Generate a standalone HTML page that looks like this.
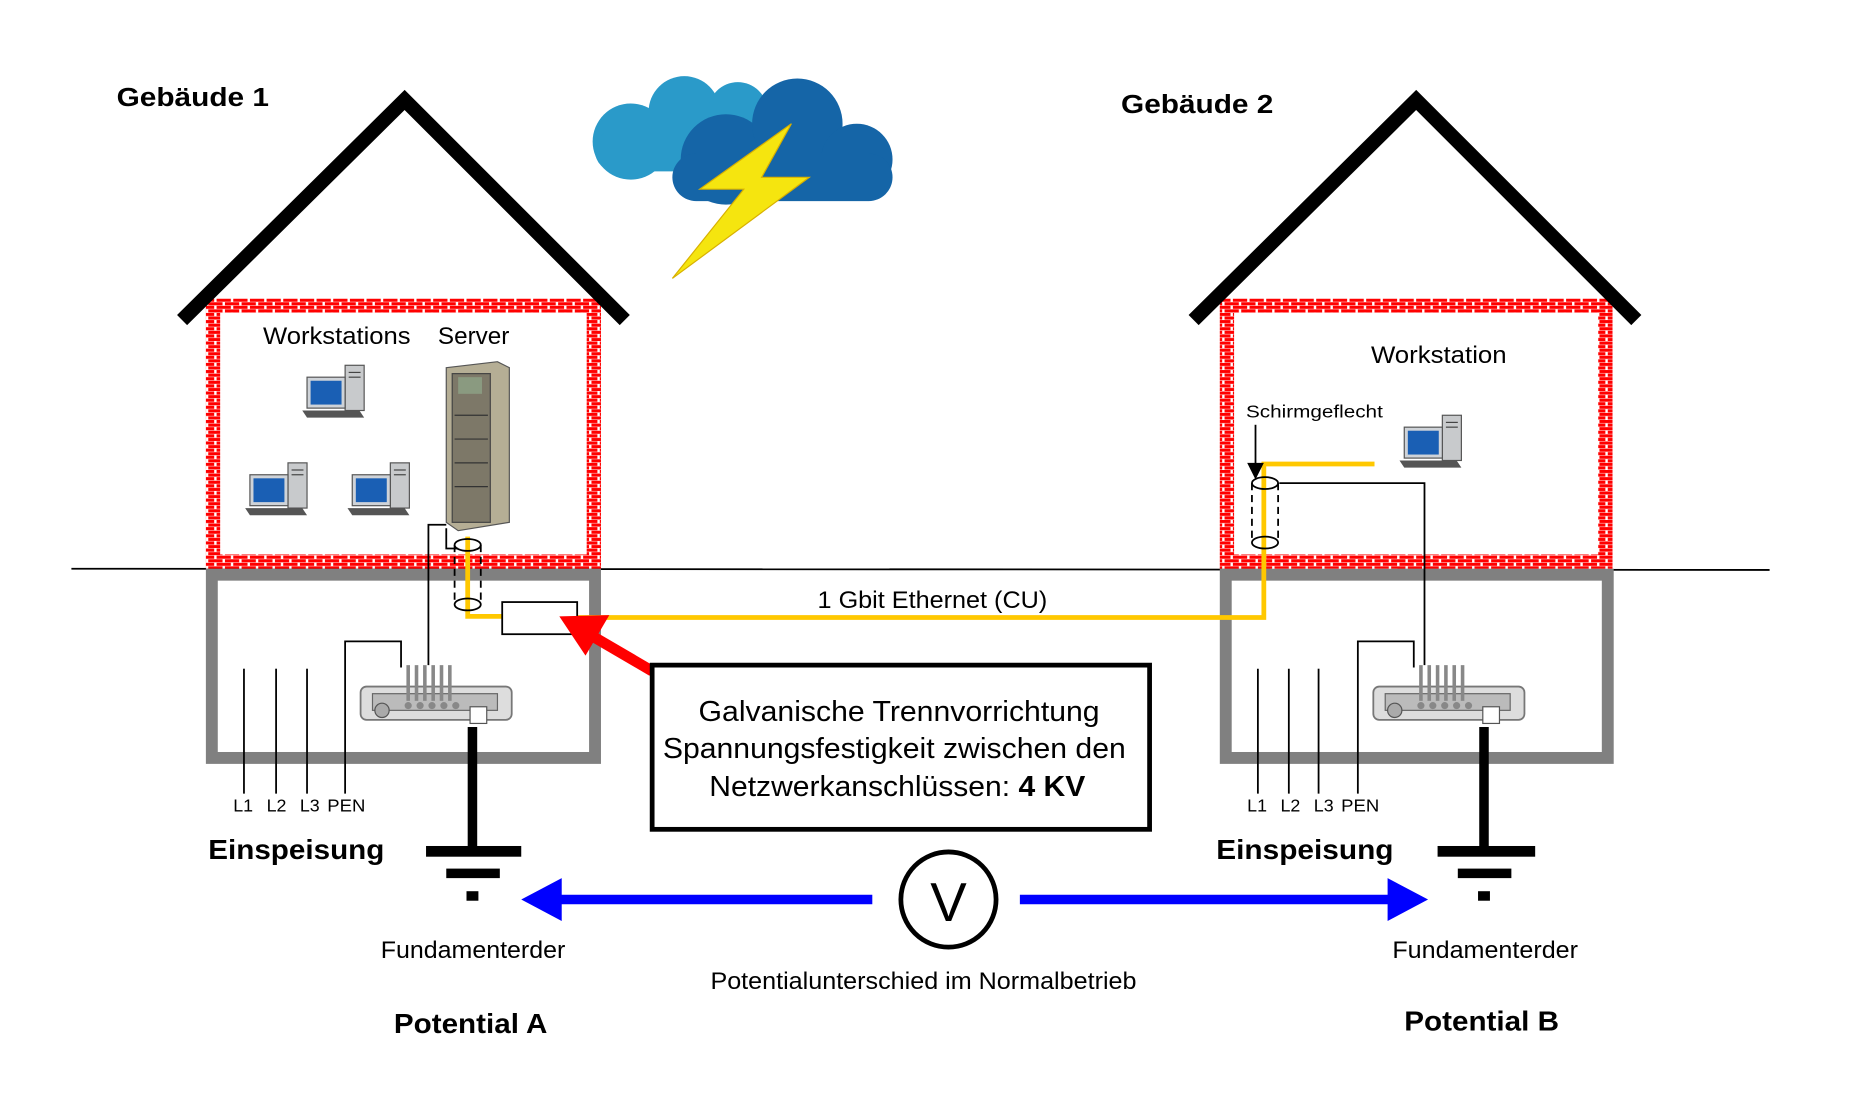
<!DOCTYPE html>
<html><head><meta charset="utf-8"><style>
html,body{margin:0;padding:0;background:#fff;}
svg{display:block;}
text{font-family:"Liberation Sans",sans-serif;}
</style></head><body>
<svg width="1866" height="1103" viewBox="0 1 1568 927" preserveAspectRatio="none" xmlns="http://www.w3.org/2000/svg">
<defs>
<pattern id="brick" x="0" y="252" width="14" height="6" patternUnits="userSpaceOnUse">
<rect width="14" height="6" fill="#fff"/>
<rect x="0" y="0" width="12" height="2.6" fill="#f00"/>
<rect x="-7" y="3" width="12" height="2.6" fill="#f00"/>
<rect x="7" y="3" width="12" height="2.6" fill="#f00"/>
</pattern>
<g id="pc">
<rect x="32" y="0" width="16" height="38" fill="#c8cacc" stroke="#555" stroke-width="1"/>
<line x1="35" y1="6" x2="45" y2="6" stroke="#444"/><line x1="35" y1="10" x2="45" y2="10" stroke="#444"/>
<rect x="0" y="10" width="32" height="26" fill="#cfd3d8" stroke="#555" stroke-width="1"/>
<rect x="3" y="13" width="26" height="20" fill="#1a5fb4"/>
<polygon points="-4,38 44,38 48,44 0,44" fill="#555"/>
</g>
<g id="term">
<rect x="0" y="18" width="127" height="28" rx="5" fill="#ddd" stroke="#777" stroke-width="1.5"/>
<rect x="10" y="24" width="105" height="14" fill="#bbb" stroke="#666"/>
<g stroke="#888" stroke-width="3"><line x1="40" y1="0" x2="40" y2="30"/><line x1="47" y1="0" x2="47" y2="30"/><line x1="54" y1="0" x2="54" y2="30"/><line x1="61" y1="0" x2="61" y2="30"/><line x1="68" y1="0" x2="68" y2="30"/><line x1="75" y1="0" x2="75" y2="30"/></g>
<g fill="#888"><circle cx="40" cy="34" r="3"/><circle cx="50" cy="34" r="3"/><circle cx="60" cy="34" r="3"/><circle cx="70" cy="34" r="3"/><circle cx="80" cy="34" r="3"/></g>
<circle cx="18" cy="38" r="6" fill="#aaa" stroke="#555"/>
<rect x="92" y="35" width="14" height="14" fill="#fff" stroke="#555"/>
</g>
</defs>

<line x1="60" y1="479" x2="1487" y2="480" stroke="#000" stroke-width="1.5"/>

<rect x="179" y="258" width="320" height="215" fill="none" stroke="url(#brick)" stroke-width="12"/>
<rect x="178" y="484" width="322" height="154" fill="none" stroke="#808080" stroke-width="10"/>
<polyline points="153,270 340,85 525,270" fill="none" stroke="#000" stroke-width="12"/>
<rect x="1031" y="258" width="318" height="215" fill="none" stroke="url(#brick)" stroke-width="12"/>
<rect x="1030" y="484" width="321" height="154" fill="none" stroke="#808080" stroke-width="10"/>
<polyline points="1003,270 1190,85 1375,270" fill="none" stroke="#000" stroke-width="12"/>

<text x="98" y="90" font-size="22" font-weight="bold" textLength="128" lengthAdjust="spacingAndGlyphs">Gebäude 1</text>
<text x="942" y="96" font-size="22" font-weight="bold" textLength="128" lengthAdjust="spacingAndGlyphs">Gebäude 2</text>

<g fill="#2a9ac9">
<circle cx="530" cy="120" r="32"/><circle cx="575" cy="95" r="30"/><circle cx="620" cy="95" r="25"/><rect x="500" y="110" width="140" height="35" rx="17"/>
</g>
<g fill="#1565a7">
<circle cx="610" cy="135" r="38"/><circle cx="670" cy="105" r="38"/><circle cx="720" cy="135" r="30"/><rect x="565" y="130" width="185" height="40" rx="20"/>
</g>
<polygon points="665,105 588,160 625,160 565,235 680,150 640,150" fill="#f5e50f" stroke="#d8b000" stroke-width="1"/>

<text x="221" y="290" font-size="20" textLength="124" lengthAdjust="spacingAndGlyphs">Workstations</text>
<text x="368" y="290" font-size="20" textLength="60" lengthAdjust="spacingAndGlyphs">Server</text>
<text x="1152" y="306" font-size="20" textLength="114" lengthAdjust="spacingAndGlyphs">Workstation</text>
<text x="1047" y="352" font-size="15" textLength="115" lengthAdjust="spacingAndGlyphs">Schirmgeflecht</text>

<use href="#pc" x="258" y="308"/>
<use href="#pc" x="210" y="390"/>
<use href="#pc" x="296" y="390"/>
<use href="#pc" x="1180" y="350"/>

<polygon points="375,310 418,305 428,310 428,440 385,447 375,440" fill="#b5ae95" stroke="#555"/>
<rect x="380" y="315" width="32" height="125" fill="#7d7868" stroke="#444"/>
<rect x="385" y="318" width="20" height="14" fill="#8a9a80"/>
<g stroke="#333"><line x1="382" y1="350" x2="410" y2="350"/><line x1="382" y1="370" x2="410" y2="370"/><line x1="382" y1="390" x2="410" y2="390"/><line x1="382" y1="410" x2="410" y2="410"/></g>

<polyline points="375,442 360,442 360,560" fill="none" stroke="#000" stroke-width="1.5"/>
<polyline points="375,445 375,462 385,462" fill="none" stroke="#000" stroke-width="1.5"/>
<polyline points="290,668 290,540 337,540 337,562" fill="none" stroke="#000" stroke-width="1.5"/>
<line x1="205" y1="563" x2="205" y2="668" stroke="#000" stroke-width="1.5"/>
<line x1="232" y1="563" x2="232" y2="668" stroke="#000" stroke-width="1.5"/>
<line x1="258" y1="563" x2="258" y2="668" stroke="#000" stroke-width="1.5"/>
<polyline points="1141,668 1141,540 1188,540 1188,562" fill="none" stroke="#000" stroke-width="1.5"/>
<line x1="1057" y1="563" x2="1057" y2="668" stroke="#000" stroke-width="1.5"/>
<line x1="1083" y1="563" x2="1083" y2="668" stroke="#000" stroke-width="1.5"/>
<line x1="1108" y1="563" x2="1108" y2="668" stroke="#000" stroke-width="1.5"/>
<polyline points="1075,407 1197,407 1197,560" fill="none" stroke="#000" stroke-width="1.5"/>

<polyline points="393,452 393,519 422,519" fill="none" stroke="#ffc800" stroke-width="4"/>
<polyline points="485,520 1062,520 1062,391 1155,391" fill="none" stroke="#ffc800" stroke-width="4"/>
<g fill="none" stroke="#000" stroke-width="1.5">
<ellipse cx="393" cy="459" rx="11" ry="5"/><ellipse cx="393" cy="509" rx="11" ry="5"/>
<line x1="382" y1="459" x2="382" y2="509" stroke-dasharray="6,4"/><line x1="404" y1="459" x2="404" y2="509" stroke-dasharray="6,4"/>
<ellipse cx="1063" cy="407" rx="11" ry="5"/><ellipse cx="1063" cy="457" rx="11" ry="5"/>
<line x1="1052" y1="407" x2="1052" y2="457" stroke-dasharray="6,4"/><line x1="1074" y1="407" x2="1074" y2="457" stroke-dasharray="6,4"/>
</g>
<line x1="1055" y1="358" x2="1055" y2="392" stroke="#000" stroke-width="1.5"/>
<polygon points="1048,390 1062,390 1055,404" fill="#000"/>

<rect x="422" y="507" width="63" height="27" fill="#fff" stroke="#000" stroke-width="1.5"/>
<text x="687" y="512" font-size="20" textLength="193" lengthAdjust="spacingAndGlyphs">1 Gbit Ethernet (CU)</text>

<line x1="548" y1="565" x2="495" y2="534" stroke="#f00" stroke-width="9"/>
<polygon points="470,519 512,518 492,552" fill="#f00"/>

<rect x="548" y="560" width="418" height="138" fill="#fff" stroke="#000" stroke-width="4"/>
<text x="587" y="607" font-size="24" textLength="337" lengthAdjust="spacingAndGlyphs">Galvanische Trennvorrichtung</text>
<text x="557" y="638" font-size="24" textLength="389" lengthAdjust="spacingAndGlyphs">Spannungsfestigkeit zwischen den</text>
<text x="596" y="670" font-size="24" textLength="316" lengthAdjust="spacingAndGlyphs">Netzwerkanschlüssen: <tspan font-weight="bold">4 KV</tspan></text>

<use href="#term" x="303" y="560"/>
<use href="#term" x="1154" y="560"/>

<line x1="397" y1="612" x2="397" y2="712" stroke="#000" stroke-width="8"/>
<rect x="358" y="712" width="80" height="9" fill="#000"/>
<rect x="375" y="731" width="45" height="8" fill="#000"/>
<rect x="392" y="750" width="10" height="8" fill="#000"/>
<line x1="1247" y1="612" x2="1247" y2="712" stroke="#000" stroke-width="8"/>
<rect x="1208" y="712" width="82" height="9" fill="#000"/>
<rect x="1225" y="731" width="45" height="8" fill="#000"/>
<rect x="1242" y="750" width="10" height="8" fill="#000"/>

<g font-family="Liberation Serif" font-size="15">
<text x="196" y="683">L1</text><text x="224" y="683">L2</text><text x="252" y="683">L3</text><text x="275" y="683" textLength="32" lengthAdjust="spacingAndGlyphs">PEN</text>
<text x="1048" y="683">L1</text><text x="1076" y="683">L2</text><text x="1104" y="683">L3</text><text x="1127" y="683" textLength="32" lengthAdjust="spacingAndGlyphs">PEN</text>
</g>
<text x="175" y="723" font-size="23" font-weight="bold" textLength="148" lengthAdjust="spacingAndGlyphs">Einspeisung</text>
<text x="1022" y="723" font-size="23" font-weight="bold" textLength="149" lengthAdjust="spacingAndGlyphs">Einspeisung</text>

<line x1="733" y1="757" x2="465" y2="757" stroke="#00f" stroke-width="8"/>
<polygon points="438,757 472,739 472,775" fill="#00f"/>
<line x1="857" y1="757" x2="1172" y2="757" stroke="#00f" stroke-width="8"/>
<polygon points="1200,757 1166,739 1166,775" fill="#00f"/>
<circle cx="797" cy="757" r="40" fill="#fff" stroke="#000" stroke-width="4"/>
<text x="797" y="775" font-size="46" text-anchor="middle">V</text>

<text x="320" y="806" font-size="20" textLength="155" lengthAdjust="spacingAndGlyphs">Fundamenterder</text>
<text x="1170" y="806" font-size="20" textLength="156" lengthAdjust="spacingAndGlyphs">Fundamenterder</text>
<text x="597" y="832" font-size="20" textLength="358" lengthAdjust="spacingAndGlyphs">Potentialunterschied im Normalbetrieb</text>
<text x="331" y="869" font-size="23" font-weight="bold" textLength="129" lengthAdjust="spacingAndGlyphs">Potential A</text>
<text x="1180" y="867" font-size="23" font-weight="bold" textLength="130" lengthAdjust="spacingAndGlyphs">Potential B</text>
</svg>
</body></html>
